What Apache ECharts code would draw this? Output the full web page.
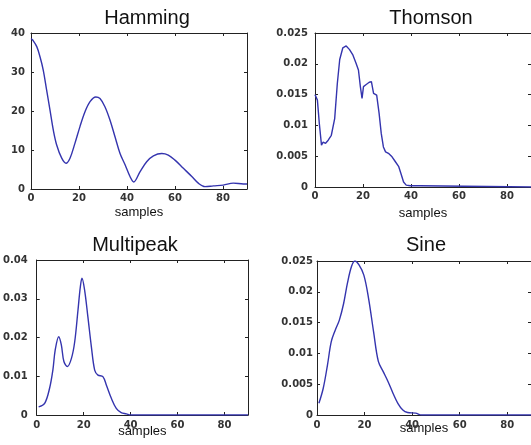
<!DOCTYPE html>
<html>
<head>
<meta charset="utf-8">
<script src="https://cdn.jsdelivr.net/npm/echarts@6/dist/echarts.min.js"></script>
<style>
  html, body { margin: 0; padding: 0; background: #fff; }
  #chart { width: 531px; height: 445px; }
</style>
</head>
<body>
<div id="chart"></div>
<script>
"use strict";

var TITLES = ['Hamming', 'Thomson', 'Multipeak', 'Sine'];

var hammingX = [0, 0.7, 2.4, 3.75, 5.1, 6.5, 7.9, 9.3, 10.7, 12.8, 14.6, 16.25, 18.3, 20.4, 22.5, 24.6, 27, 28.75, 30.8, 32.9, 35, 37.1, 39.2, 41.25, 42.8, 45.4, 48.2, 51, 54.5, 57.2, 60, 63.5, 67, 69.7, 72.5, 76, 80.1, 84.3, 88.5, 90];
var hammingY = [38.6, 38.2, 36.5, 33.9, 30.5, 25.4, 20.3, 15.1, 11.3, 7.9, 6.6, 7.9, 11.7, 16, 19.8, 22.4, 23.6, 23.2, 21.1, 17.7, 13.4, 9.1, 6.2, 3.2, 1.8, 4.4, 7.0, 8.5, 9.1, 8.7, 7.4, 5.3, 3.2, 1.5, 0.6, 0.8, 1.0, 1.5, 1.3, 1.3];

var thomsonX = [0, 1, 1.8, 2.7, 3.4, 4.4, 5.5, 6.8, 7.5, 8.2, 9.3, 10.3, 11.6, 13, 14.4, 15.7, 17.1, 18.1, 18.9, 19.6, 20.2, 21.2, 22.6, 23.5, 24.4, 25, 25.7, 26.7, 27.6, 28.5, 29.4, 30.8, 32.1, 33.5, 34.9, 35.8, 36.9, 38, 39.7, 43.8, 44.5, 90];
var thomsonY = [0.0150, 0.0141, 0.0103, 0.0068, 0.0073, 0.0071, 0.0076, 0.0084, 0.0082, 0.0111, 0.0168, 0.0207, 0.0226, 0.0229, 0.0223, 0.0215, 0.0201, 0.0190, 0.0163, 0.0144, 0.0163, 0.0166, 0.0170, 0.0171, 0.0152, 0.0155, 0.0149, 0.0120, 0.0087, 0.0065, 0.0057, 0.0054, 0.0049, 0.0041, 0.0033, 0.0022, 0.0008, 0.0003, 0.0002, 0.0002, 0, 0];

var multipeakX = [0.85, 3.4, 5.5, 6.9, 7.9, 9.4, 10.5, 11.6, 13.1, 14.8, 16.2, 17.6, 18.6, 19.3, 20.4, 21.8, 23.3, 24.7, 26.1, 28.2, 29.7, 31.8, 33.9, 36, 38.2, 40, 90];
var multipeakY = [0.0021, 0.0030, 0.0069, 0.0116, 0.0168, 0.0202, 0.0181, 0.0138, 0.0125, 0.0146, 0.0189, 0.0271, 0.0331, 0.0353, 0.0323, 0.0254, 0.0176, 0.0116, 0.0103, 0.0099, 0.0077, 0.0043, 0.0017, 0.0006, 0.0003, 0, 0];

var sineX = [0.8, 2.6, 4.4, 6, 7.7, 9.4, 11.2, 12.8, 14.5, 15.9, 17.6, 19.7, 21.7, 23.8, 25.8, 27.9, 29.9, 32, 34, 36.1, 38.1, 41.5, 44, 90];
var sineY = [0.0019, 0.0043, 0.0081, 0.0119, 0.0138, 0.0154, 0.0181, 0.0214, 0.0241, 0.0250, 0.0244, 0.0227, 0.0189, 0.0135, 0.0087, 0.0070, 0.0054, 0.0035, 0.0019, 0.0008, 0.0004, 0.0003, 0, 0];

var Y_MAX = [40, 0.025, 0.04, 0.025];
var Y_STEP = [10, 0.005, 0.01, 0.005];

var panels = [
	{ x: hammingX, y: hammingY, smooth: 0.35, grid: { left: 31, top: 33, width: 216, height: 156 }, title: [147, 18], xMargin: 4, yMargin: 6, nameGap: 17 },
	{ x: thomsonX, y: thomsonY, smooth: false, grid: { left: 315, top: 33, width: 217, height: 154 }, title: [431, 18], xMargin: 4, yMargin: 7, nameGap: 20 },
	{ x: multipeakX, y: multipeakY, smooth: 0.35, grid: { left: 32, top: 260, width: 216, height: 155 }, title: [135, 245], xMargin: 5, yMargin: 9, nameGap: 10 },
	{ x: sineX, y: sineY, smooth: 0.35, grid: { left: 317, top: 261, width: 216, height: 154 }, title: [426, 245], xMargin: 5, yMargin: 4, nameGap: 7 }
];

var AXIS_COLOR = '#222';
var LINE_COLOR = '#3434ae';
var labelFont = { fontFamily: 'DejaVu Sans', fontWeight: 'bold', fontSize: 10, color: '#333' };

function boxAxis(extra) {
	return Object.assign({
		type: 'value',
		axisLine: { show: true, onZero: false, lineStyle: { color: AXIS_COLOR, width: 1 } },
		axisTick: { show: true, inside: true, length: 3, lineStyle: { color: AXIS_COLOR } },
		axisLabel: { show: false },
		splitLine: { show: false }
	}, extra);
}

var grids = [], xAxes = [], yAxes = [], series = [], graphics = [];

panels.forEach(function(p, i) {
	grids.push(p.grid);

	var pts = [];
	for (var k = 0; k < p.x.length; k++) {
		pts.push([p.x[k], p.y[k]]);
	}

	// bottom axis with labels
	xAxes.push(boxAxis({
		gridIndex: i, min: 0, max: 90, interval: 20, position: 'bottom',
		name: 'samples', nameLocation: 'middle', nameGap: p.nameGap, nameMoveOverlap: false,
		nameTextStyle: { fontFamily: 'Liberation Sans', fontSize: 13, color: '#111' },
		axisLabel: Object.assign({ show: true, margin: p.xMargin, showMaxLabel: false }, labelFont)
	}));
	// top axis, ticks only
	xAxes.push(boxAxis({ gridIndex: i, min: 0, max: 90, interval: 20, position: 'top' }));

	yAxes.push(boxAxis({
		gridIndex: i, min: 0, max: Y_MAX[i], interval: Y_STEP[i], position: 'left',
		axisLabel: Object.assign({ show: true, margin: p.yMargin }, labelFont)
	}));
	yAxes.push(boxAxis({ gridIndex: i, min: 0, max: Y_MAX[i], interval: Y_STEP[i], position: 'right' }));

	series.push({
		name: TITLES[i],
		type: 'line',
		xAxisIndex: i * 2,
		yAxisIndex: i * 2,
		data: pts,
		smooth: p.smooth,
		showSymbol: false,
		lineStyle: { color: LINE_COLOR, width: 1.4 },
		animation: false
	});

	graphics.push({
		type: 'text',
		x: p.title[0],
		y: p.title[1],
		style: {
			text: TITLES[i],
			font: '20px "Liberation Sans"',
			fill: '#111',
			textAlign: 'center',
			textVerticalAlign: 'middle'
		}
	});
});

var chart = echarts.init(document.getElementById('chart'));
chart.setOption({
	backgroundColor: '#fff',
	animation: false,
	grid: grids,
	xAxis: xAxes,
	yAxis: yAxes,
	series: series,
	graphic: graphics
});
</script>
</body>
</html>
